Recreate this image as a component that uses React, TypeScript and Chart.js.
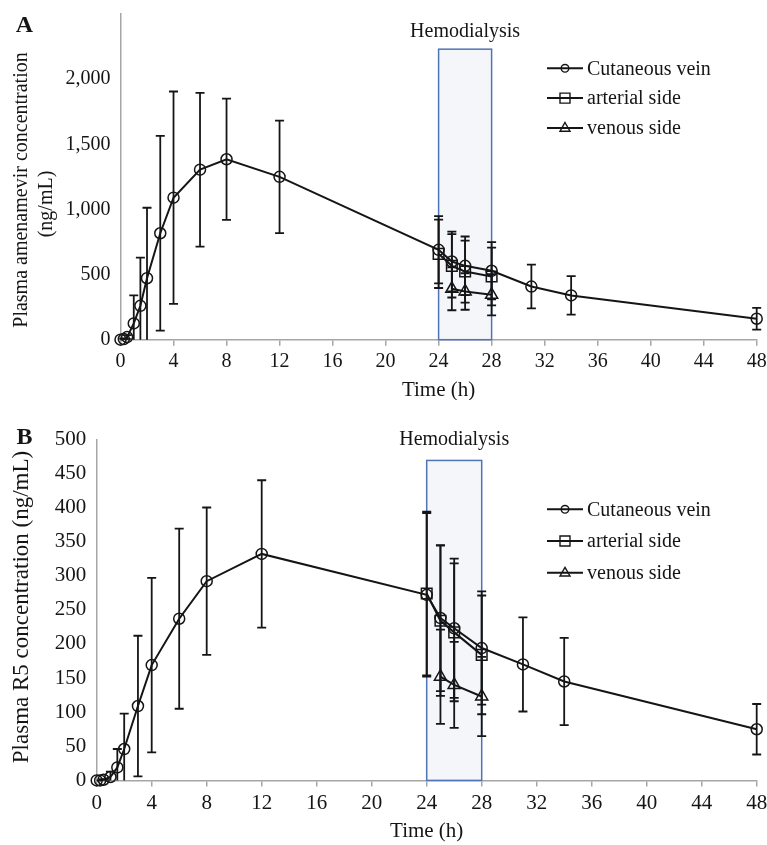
import React, { useEffect, useRef } from "react";
import { Chart, registerables } from "chart.js";

Chart.register(...registerables);

// ---------- data ----------
const TIMES = [0, 0.25, 0.5, 1, 1.5, 2, 3, 4, 6, 8, 12, 24, 25, 26, 28, 31, 34, 48];
const ARTERIAL_TIMES = [24, 25, 26, 28];
const VENOUS_TIMES = [25, 26, 28];
const SERIES_NAMES = ["Cutaneous vein", "arterial side", "venous side"];

const A_CUT_MEAN = [0, 5, 20, 125, 260, 472, 817, 1090, 1305, 1385, 1250, 690, 600, 567, 529, 408, 340, 161];
const A_CUT_SD = [0, 5, 15, 215, 370, 541, 748, 815, 590, 466, 432, 258, 230, 225, 220, 168, 148, 84];
const A_ART_MEAN = [659, 567, 523, 485];
const A_ART_SD = [262, 243, 238, 222];
const A_VEN_MEAN = [391, 370, 345];
const A_VEN_SD = [165, 140, 159];

const B_CUT_MEAN = [0, 0, 1, 5, 19, 46, 109, 169, 237, 292, 332, 272, 238, 223, 194, 170, 145, 75];
const B_CUT_SD = [0, 0, 1, 8, 27, 52, 103, 128, 132, 108, 108, 120, 107, 102, 83, 69, 64, 37];
const B_ART_MEAN = [274, 234, 217, 184];
const B_ART_SD = [120, 110, 101, 87];
const B_VEN_MEAN = [152, 140, 123];
const B_VEN_SD = [69, 63, 58];

const HD_START = 24;
const HD_END = 28;
const HD_LABEL = "Hemodialysis";
const X_TITLE = "Time (h)";

// ---------- style ----------
const FONT = "'Liberation Serif', 'Times New Roman', serif";
const AXIS_GRAY = "#a6a6a6";
const INK = "#151515";
const HD_STROKE = "#4f74b6";
const HD_FILL = "#f4f6fa";

type PanelCfg = {
  letter: string;
  height: number;
  area: { left: number; right: number; top: number; bottom: number };
  yMax: number;
  yStep: number;
  yLabelMax: number;
  tickFont: number;
  xTickPad: number;
  yTickPad: number;
  yTitle: { text: string; x: number; y: number }[];
  yTitleFont: number;
  xTitleY: number;
  hdTop: number;
  hdLabelOffset: number;
  letterPos: { x: number; y: number };
  legendY: number;
  legendGap: number;
  cut: [number[], number[]];
  art: [number[], number[]];
  ven: [number[], number[]];
};

const PANEL_A: PanelCfg = {
  letter: "A",
  height: 400,
  area: { left: 120.5, right: 756.7, top: 14, bottom: 339.7 },
  yMax: 2500,
  yStep: 500,
  yLabelMax: 2000,
  tickFont: 20,
  xTickPad: 4,
  yTickPad: 10,
  yTitle: [
    { text: "Plasma amenamevir concentration", x: 22, y: 190 },
    { text: "(ng/mL)", x: 47, y: 204 },
  ],
  yTitleFont: 20,
  xTitleY: 390,
  hdTop: 2230,
  hdLabelOffset: 12,
  letterPos: { x: 24.5, y: 26 },
  legendY: 68.3,
  legendGap: 29.8,
  cut: [A_CUT_MEAN, A_CUT_SD],
  art: [A_ART_MEAN, A_ART_SD],
  ven: [A_VEN_MEAN, A_VEN_SD],
};

const PANEL_B: PanelCfg = {
  letter: "B",
  height: 445,
  area: { left: 96.7, right: 756.7, top: 39.3, bottom: 380.4 },
  yMax: 500,
  yStep: 50,
  yLabelMax: 500,
  tickFont: 21,
  xTickPad: 4,
  yTickPad: 10.5,
  yTitle: [{ text: "Plasma R5 concentration (ng/mL)", x: 21.5, y: 207 }],
  yTitleFont: 23,
  xTitleY: 431,
  hdTop: 469,
  hdLabelOffset: 15,
  letterPos: { x: 24.5, y: 38 },
  legendY: 109.3,
  legendGap: 31.7,
  cut: [B_CUT_MEAN, B_CUT_SD],
  art: [B_ART_MEAN, B_ART_SD],
  ven: [B_VEN_MEAN, B_VEN_SD],
};

function fmt(v: number) {
  return String(v).replace(/\B(?=(\d{3})+(?!\d))/g, ",");
}

function drawMarker(ctx: CanvasRenderingContext2D, style: string, x: number, y: number, size: number) {
  ctx.beginPath();
  if (style === "circle") {
    ctx.arc(x, y, size * 0.45, 0, Math.PI * 2);
  } else if (style === "rect") {
    ctx.rect(x - size / 2, y - size / 2, size, size);
  } else {
    const h = size * 0.87;
    ctx.moveTo(x, y - h * 0.62);
    ctx.lineTo(x + size / 2, y + h * 0.38);
    ctx.lineTo(x - size / 2, y + h * 0.38);
    ctx.closePath();
  }
  ctx.stroke();
}

function PanelChart({ cfg }: { cfg: PanelCfg }) {
  const ref = useRef<HTMLCanvasElement | null>(null);

  useEffect(() => {
    const canvas = ref.current;
    if (!canvas) return;
    const W = 767;
    const { area } = cfg;

    const mk = (
      label: string,
      times: number[],
      mean: number[],
      sd: number[],
      pointStyle: string,
      radius: number
    ) => ({
      label,
      data: times.map((t, i) => ({ x: t, y: mean[i] })),
      sd,
      borderColor: INK,
      borderWidth: 2,
      pointStyle,
      pointRadius: radius,
      pointBorderWidth: 1.5,
      pointBorderColor: INK,
      pointBackgroundColor: "rgba(0,0,0,0)",
      tension: 0,
      clip: false,
    });

    const decor = {
      id: "decor",
      beforeDatasetsDraw(chart: any) {
        const ctx = chart.ctx as CanvasRenderingContext2D;
        const xs = chart.scales.x;
        const ys = chart.scales.y;
        // hemodialysis box
        const x0 = xs.getPixelForValue(HD_START);
        const x1 = xs.getPixelForValue(HD_END);
        const yT = ys.getPixelForValue(cfg.hdTop);
        const yB = ys.getPixelForValue(0);
        ctx.save();
        ctx.fillStyle = HD_FILL;
        ctx.fillRect(x0, yT, x1 - x0, yB - yT);
        ctx.strokeStyle = HD_STROKE;
        ctx.lineWidth = 1.5;
        ctx.strokeRect(x0, yT, x1 - x0, yB - yT);
        ctx.fillStyle = INK;
        ctx.font = `20px ${FONT}`;
        ctx.textAlign = "center";
        ctx.textBaseline = "alphabetic";
        ctx.fillText(HD_LABEL, (x0 + x1) / 2, yT - cfg.hdLabelOffset);
        ctx.restore();

        // error bars
        ctx.save();
        ctx.beginPath();
        ctx.rect(0, 0, W, chart.chartArea.bottom);
        ctx.clip();
        ctx.strokeStyle = INK;
        ctx.lineWidth = 1.8;
        chart.data.datasets.forEach((ds: any, di: number) => {
          const meta = chart.getDatasetMeta(di);
          ds.data.forEach((p: any, i: number) => {
            const s = ds.sd[i];
            if (!s) return;
            const px = meta.data[i].x;
            const yHi = ys.getPixelForValue(p.y + s);
            const yLo = ys.getPixelForValue(p.y - s);
            const cap = 4.5;
            ctx.beginPath();
            ctx.moveTo(px, yHi);
            ctx.lineTo(px, yLo);
            ctx.moveTo(px - cap, yHi);
            ctx.lineTo(px + cap, yHi);
            ctx.moveTo(px - cap, yLo);
            ctx.lineTo(px + cap, yLo);
            ctx.stroke();
          });
        });
        ctx.restore();
      },
      afterDraw(chart: any) {
        const ctx = chart.ctx as CanvasRenderingContext2D;
        const ca = chart.chartArea;
        ctx.save();
        ctx.fillStyle = INK;
        // panel letter
        ctx.font = `bold 24px ${FONT}`;
        ctx.textAlign = "center";
        ctx.textBaseline = "middle";
        ctx.fillText(cfg.letter, cfg.letterPos.x, cfg.letterPos.y);
        // x title
        ctx.font = `21px ${FONT}`;
        ctx.fillText(X_TITLE, (ca.left + ca.right) / 2, cfg.xTitleY);
        // y title
        ctx.font = `${cfg.yTitleFont}px ${FONT}`;
        cfg.yTitle.forEach((t) => {
          ctx.save();
          ctx.translate(t.x, t.y);
          ctx.rotate(-Math.PI / 2);
          ctx.fillText(t.text, 0, 0);
          ctx.restore();
        });
        // legend
        const styles = ["circle", "rect", "triangle"];
        const sizes = [8.5, 10, 10];
        ctx.font = `20px ${FONT}`;
        ctx.textAlign = "left";
        SERIES_NAMES.forEach((name, k) => {
          const y = cfg.legendY + k * cfg.legendGap;
          ctx.strokeStyle = INK;
          ctx.lineWidth = 2;
          ctx.beginPath();
          ctx.moveTo(547, y);
          ctx.lineTo(583, y);
          ctx.stroke();
          ctx.lineWidth = 1.4;
          drawMarker(ctx, styles[k], 565, y, sizes[k]);
          ctx.fillText(name, 587, y + 1);
        });
        ctx.restore();
      },
    };

    const chart = new Chart(canvas, {
      type: "line",
      data: {
        datasets: [
          mk(SERIES_NAMES[0], TIMES, cfg.cut[0], cfg.cut[1], "circle", 5.5),
          mk(SERIES_NAMES[1], ARTERIAL_TIMES, cfg.art[0], cfg.art[1], "rect", 7.5),
          mk(SERIES_NAMES[2], VENOUS_TIMES, cfg.ven[0], cfg.ven[1], "triangle", 7),
        ] as any,
      },
      options: {
        responsive: false,
        animation: false,
        devicePixelRatio: 1,
        events: [],
        layout: {
          padding: { left: 0, top: area.top, right: W - area.right, bottom: 0 },
        },
        plugins: { legend: { display: false }, tooltip: { enabled: false }, title: { display: false } },
        scales: {
          x: {
            type: "linear",
            min: 0,
            max: 48,
            ticks: {
              stepSize: 4,
              autoSkip: false,
              maxRotation: 0,
              color: INK,
              padding: cfg.xTickPad,
              font: { family: FONT, size: cfg.tickFont },
            },
            grid: {
              display: true,
              drawOnChartArea: false,
              drawTicks: true,
              tickLength: 6,
              color: AXIS_GRAY,
              lineWidth: 1.5,
            },
            border: { display: true, color: AXIS_GRAY, width: 1.5 },
            afterFit: (s: any) => {
              s.height = cfg.height - area.bottom;
              s.paddingLeft = 0;
              s.paddingRight = 0;
            },
          },
          y: {
            type: "linear",
            min: 0,
            max: cfg.yMax,
            ticks: {
              stepSize: cfg.yStep,
              color: INK,
              padding: cfg.yTickPad,
              font: { family: FONT, size: cfg.tickFont },
              callback: (v: any) => (Number(v) > cfg.yLabelMax ? "" : fmt(Number(v))),
            },
            grid: {
              display: true,
              drawOnChartArea: false,
              drawTicks: false,
              color: "rgba(0,0,0,0)",
            },
            border: { display: true, color: AXIS_GRAY, width: 1.5 },
            afterFit: (s: any) => {
              s.width = area.left;
              s.paddingTop = 0;
              s.paddingBottom = 0;
            },
          },
        },
      } as any,
      plugins: [decor as any],
    });

    return () => chart.destroy();
  }, [cfg]);

  return (
    <canvas
      ref={ref}
      width={767}
      height={cfg.height}
      style={{ display: "block", width: 767, height: cfg.height }}
    />
  );
}

export default function App() {
  return (
    <div
      style={{
        position: "absolute",
        left: 0,
        top: 0,
        width: 767,
        height: 845,
        background: "#ffffff",
        overflow: "hidden",
      }}
    >
      <PanelChart cfg={PANEL_A} />
      <PanelChart cfg={PANEL_B} />
    </div>
  );
}
